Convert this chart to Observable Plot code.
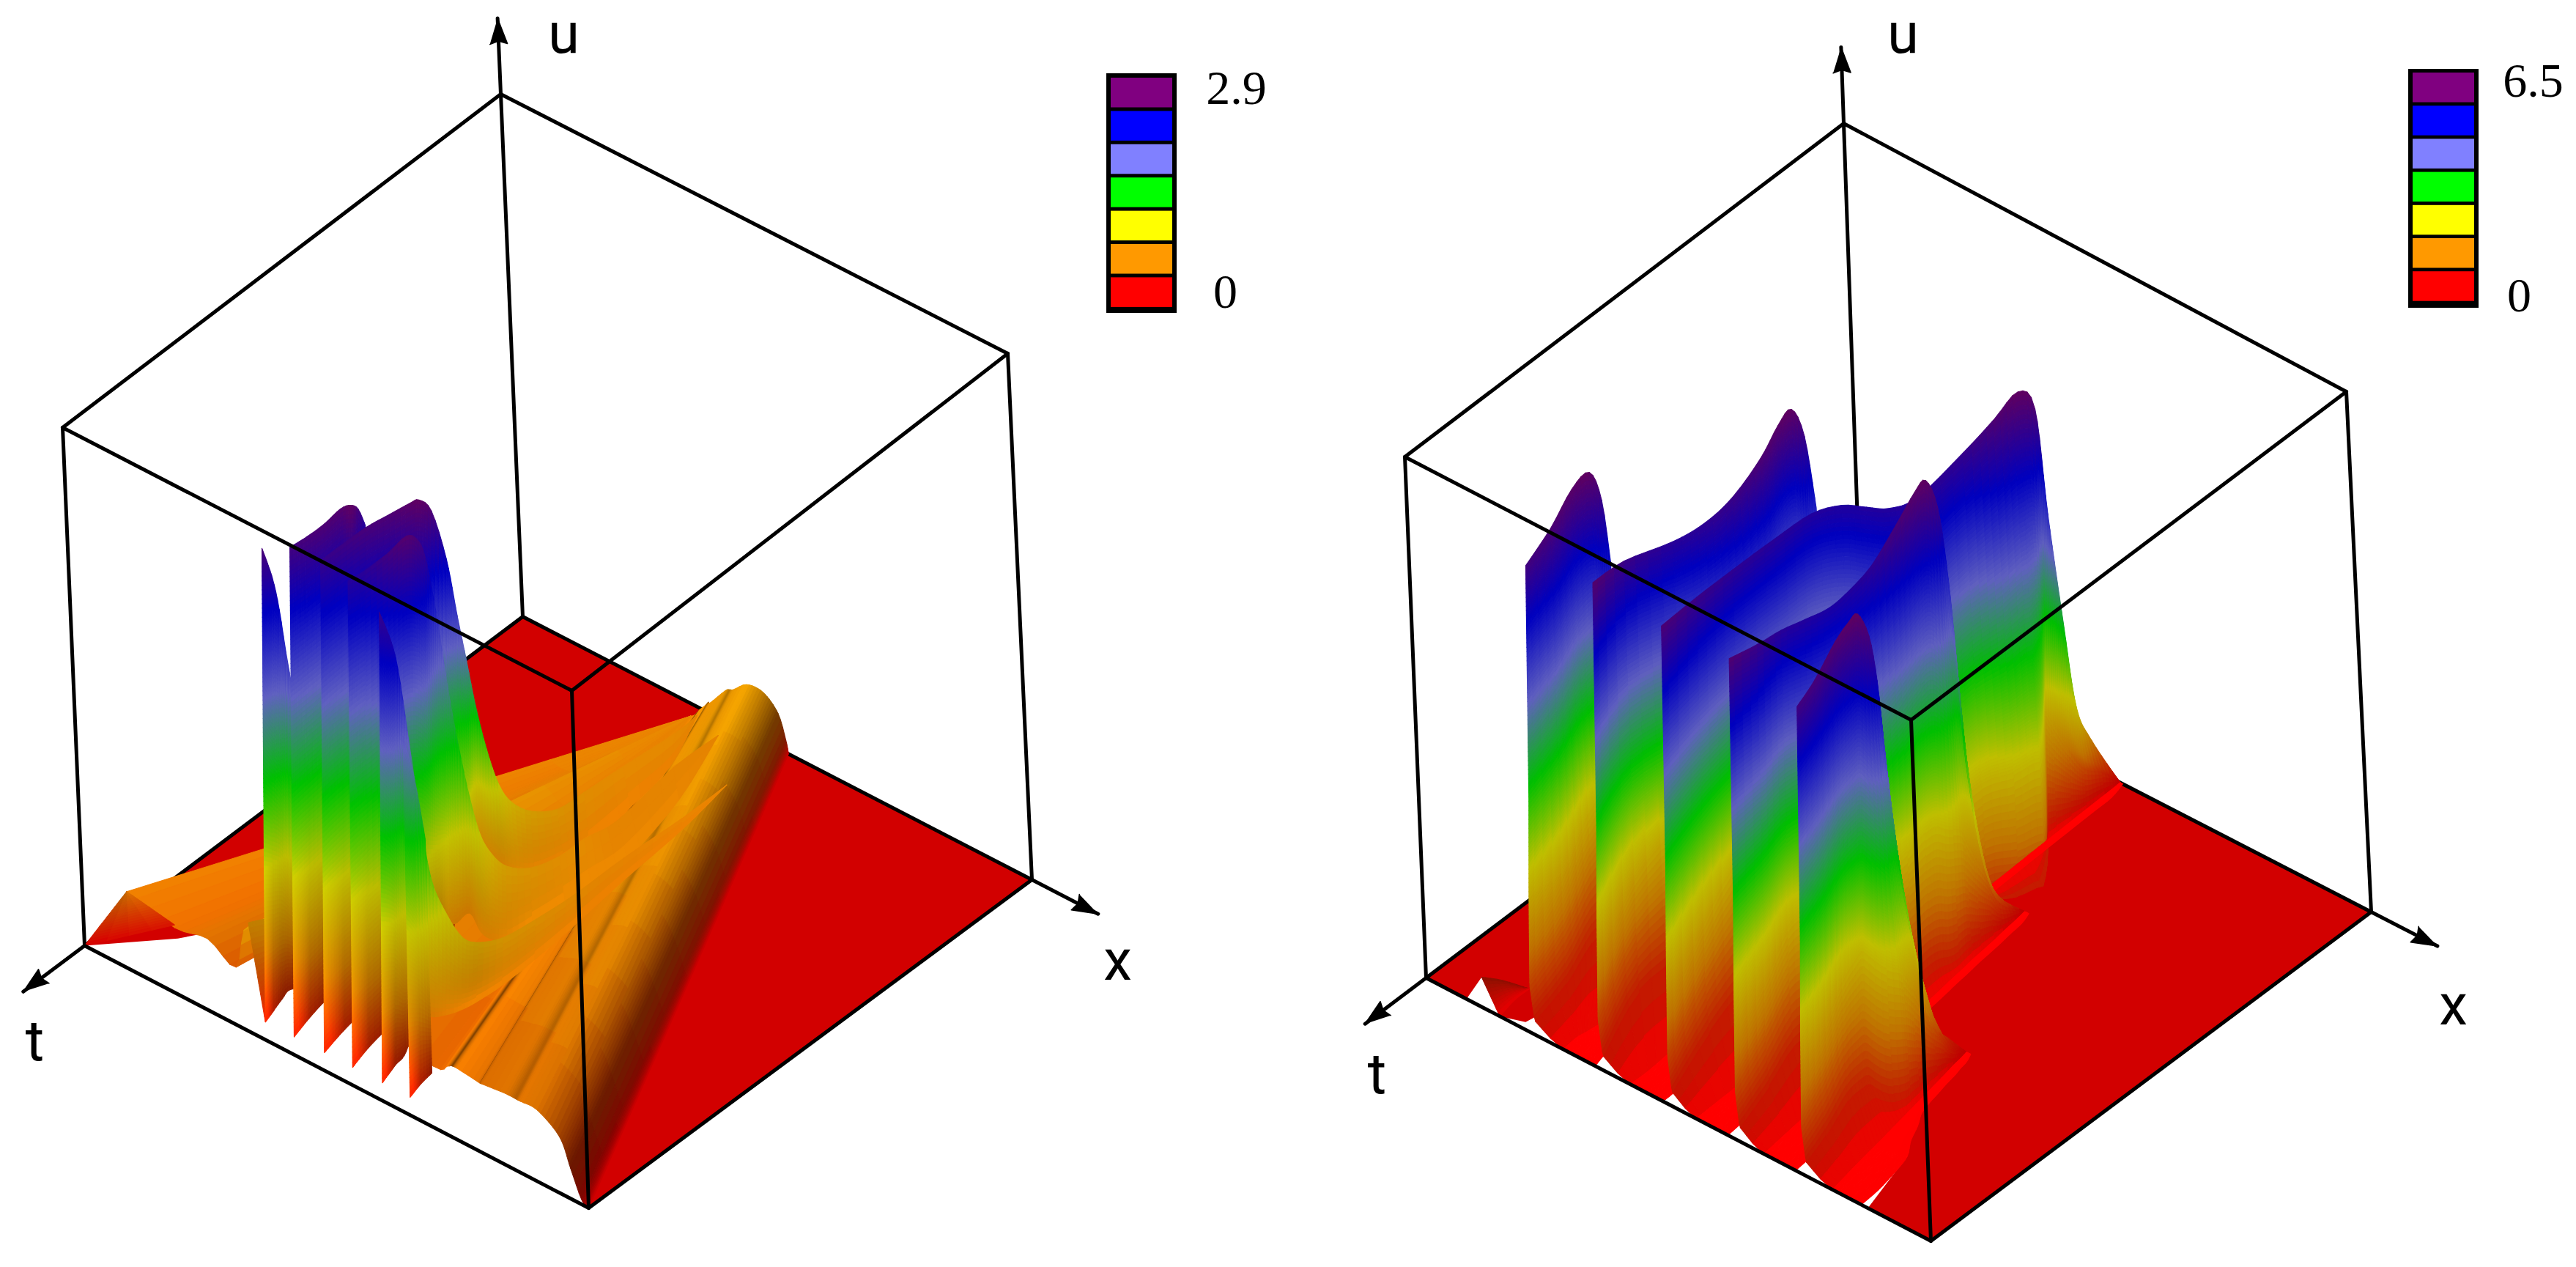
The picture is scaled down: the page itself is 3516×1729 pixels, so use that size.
<!DOCTYPE html>
<html><head><meta charset="utf-8">
<script src="https://cdn.jsdelivr.net/npm/d3@7"></script>
<script src="https://cdn.jsdelivr.net/npm/@observablehq/plot@0.6"></script>
<style>html,body{margin:0;padding:0;background:#fff;overflow:hidden}</style>
</head><body><div id="chart"></div>
<script>
// Values are read from the picture. Every vertex is [x, t, level, optional shade],
// x and t run 0..1 along the box floor, level is u as a share of the box height.
const legendColors = ["#ff0000","#ff9900","#ffff00","#00ff00","#8080ff","#0000ff","#800080"];
const leftTicks = ["2.9","0"];
const rightTicks = ["6.5","0"];
const axisLabels = ["u","x","t"];

// ---------- left panel: u up to 2.9 ----------
const lFloor = [[0,0],[1,0],[1,1],[.975,.97],[.91,.85],[.85,.75],[.2,.75],[.098,.9],[0,1]];
const lWedgeTop = [[.09,1,.15,.72],[.09,1,.15,.88]];
const lWedgeEnd = [[0,1,0,.85],[.098,.906,.03,.85]];
const lPlateauStart = [[.484,.17,.16,.92],[.484,.17,.16,.92],[.484,.17,.16,.92],[.484,.17,.16,.92],[.484,.17,.16,.92],[.484,.17,.16,.92],[.484,.17,.16,.92],[.484,.17,.16,.92],[.487,.165,.16,.98],[.49,.16,.165,.5],[.493,.157,.17,.98],[.497,.15,.175,.98],[.5,.147,.18,.6],[.503,.147,.18,.95],[.51,.12,.19,.92],[.514,.114,.19,.7],[.518,.11,.19,.92],[.534,.098,.2,.98],[.557,.088,.19,.75],[.573,.075,.15,.45],[.548,.033,.06,.5],[.522,0,0,.8]];
const lPlateauEnd = [[.09,1,.15,.95],[.184,1,.128,.95],[.25,1,.14,.88],[.305,1,.113,.85],[.337,1,.21,.9],[.45,1,.15,.9],[.58,1,.15,.9],[.697,1,.12,.9],[.725,1,.135,.98],[.735,1,.14,.5],[.745,1,.14,.98],[.785,1,.135,.9],[.79,1,.135,.62],[.795,1,.135,.86],[.84,1,.14,.88],[.86,1,.14,.7],[.87,1,.14,.9],[.903,1,.14,.85],[.946,1,.11,.62],[.966,1,.06,.42],[.986,1,.01,.5],[1,1,0,.8]];
const lStrip0bTop = [[.314,.979,.19],[.34,.959,.2]];
const lStrip0bFoot = [[.36,1,.035,1.1],[.36,.98,.045,.8]];
const lStrip0Crest = [[.39,1,.965],[.394,.984,.9],[.402,.98,.84],[.412,.974,.72],[.43,.955,.5]];
const lStrip0Foot = [[.36,1,.035,1.25],[.36,.98,.045,.7],[.36,.96,.055,.55],[.36,.94,.06,.55],[.39,.92,.06,.55]];
const lStrip1Crest = [[.409,.959,.95],[.421,.933,.96],[.43,.904,.97],[.434,.871,.98],[.457,.873,1],[.439,.837,.96],[.423,.805,.9]];
const lStrip1Foot = [[.417,1,.035,1.25],[.417,.962,.05,.65],[.417,.923,.06,.55],[.417,.885,.06,.55],[.417,.862,.06,.55],[.417,.845,.06,.55],[.417,.828,.06,.55]];
const lStrip2Crest = [[.449,.936,.93],[.458,.9,.94],[.476,.863,.96],[.492,.826,.97],[.515,.806,.99],[.529,.801,1],[.536,.782,.97],[.537,.754,.86],[.538,.736,.74],[.537,.718,.64],[.532,.697,.54],[.53,.674,.44],[.523,.643,.35],[.508,.6,.28,.8],[.504,.553,.23,.82],[.507,.497,.2,.85],[.495,.423,.18,.88],[.492,.332,.17,.9],[.501,.224,.17,.9],[.49,.162,.16,.9]];
const lStrip2Foot = [[.477,1,.035,1.25],[.477,.953,.05,.65],[.477,.897,.06,.55],[.477,.842,.06,.55],[.477,.797,.06,.55],[.477,.775,.06,.55],[.477,.747,.06,.55],[.477,.713,.06,.55],[.477,.687,.15,.8],[.477,.667,.15,.8],[.445,.611,.16,.85],[.469,.613,.16,.85],[.503,.62,.16,.85],[.532,.619,.16,.9],[.545,.594,.15,.98],[.556,.54,.15,.98],[.557,.484,.15,.98],[.547,.38,.15,.98],[.53,.27,.15,.95],[.49,.162,.16,.9]];
const lStrip3Crest = [[.488,.92,.9],[.5,.894,.91],[.533,.878,.95],[.553,.859,.98],[.555,.837,.96],[.56,.826,.92],[.542,.787,.78],[.544,.773,.65],[.547,.76,.54],[.557,.75,.43],[.567,.738,.34],[.565,.711,.28,.8],[.561,.674,.23,.82],[.567,.627,.2,.85],[.566,.561,.18,.88],[.559,.497,.17,.9],[.561,.425,.16,.9],[.544,.278,.16,.9],[.546,.179,.16,.9]];
const lStrip3Foot = [[.533,1,.035,1.25],[.533,.962,.05,.65],[.533,.912,.06,.55],[.533,.868,.06,.55],[.533,.845,.06,.55],[.533,.827,.06,.55],[.533,.802,.1,.6],[.533,.778,.16,.8],[.533,.757,.16,.8],[.533,.728,.16,.8],[.576,.752,.16,.85],[.601,.754,.16,.85],[.618,.74,.16,.9],[.622,.688,.16,.98],[.626,.619,.16,.98],[.629,.564,.16,.98],[.632,.484,.16,.98],[.6,.33,.16,.95],[.546,.179,.16,.9]];
const lStrip4Crest = [[.597,.974,.93],[.621,.968,.85],[.624,.948,.67],[.635,.944,.55],[.647,.937,.42],[.646,.905,.33],[.654,.879,.27],[.656,.845,.24],[.652,.786,.21,.82],[.645,.705,.19,.85],[.635,.602,.17,.88],[.627,.487,.16,.9],[.633,.361,.16,.92],[.633,.26,.16,.92]];
const lStrip4Foot = [[.592,1,.035,1.25],[.592,.97,.05,.6],[.592,.945,.06,.55],[.618,.941,.15,.8],[.642,.94,.15,.85],[.656,.923,.15,.9],[.666,.899,.15,.95],[.671,.872,.15,.98],[.675,.818,.15,.98],[.673,.742,.15,.98],[.665,.637,.15,.98],[.653,.519,.15,.98],[.642,.371,.15,.95],[.633,.26,.16,.92]];
const lStrip5Crest = [[.619,.956,.69],[.643,.96,.62],[.647,.946,.5]];
const lStrip5Foot = [[.647,1,.035,1.25],[.647,.975,.045,.7],[.647,.95,.05,.55]];

// ---------- right panel: u up to 6.5 ----------
const rFloor = [[0,0],[1,0],[1,1],[.875,1],[.84,.87],[.7,.9],[.2,.9],[.196,.926],[.185,.986],[.146,1],[.064,.947],[.08,1],[0,1]];
const r0Top = [[.089,.974,.03],[.119,.96,.03],[.151,.942,.02]];
const r0Foot = [[.146,1,0],[.138,.956,0],[.138,.922,0]];
const r1Crest = [[.235,1,.91],[.223,.928,.93],[.204,.857,.95],[.207,.82,.96],[.214,.803,.9],[.223,.798,.78]];
const r1Knee = [[.272,1,0],[.269,.968,0],[.272,.945,0],[.275,.922,0],[.28,.906,0],[.284,.89,0]];
const r1Apron = [[.335,1,0],[.328,.968,0],[.332,.951,0],[.334,.933,0],[.317,.913,0],[.3,.893,0]];
const r2Crest = [[.369,1,.945],[.335,.891,.9],[.337,.784,.87],[.354,.728,.88],[.363,.675,.9],[.361,.608,.93],[.347,.551,.95],[.346,.519,.96],[.353,.5,.9],[.353,.48,.75]];
const r2Knee = [[.404,1,0],[.405,.96,0],[.4,.864,0],[.413,.803,0],[.419,.748,0],[.417,.683,0],[.421,.646,0],[.409,.604,0],[.424,.593,0],[.431,.587,0]];
const r2Apron = [[.469,1,0],[.466,.96,0],[.44,.864,0],[.44,.803,0],[.44,.748,0],[.44,.683,0],[.44,.646,0],[.43,.604,0],[.445,.593,0],[.45,.587,0]];
const r3Crest = [[.504,1,.93],[.476,.888,.9],[.459,.787,.88],[.452,.683,.87],[.448,.595,.86],[.47,.552,.86],[.502,.532,.86],[.531,.512,.86],[.555,.475,.87],[.556,.372,.89],[.574,.321,.93],[.584,.275,.96],[.605,.262,.93],[.624,.264,.74],[.629,.245,.52],[.606,.199,.32],[.558,.116,.18],[.507,0,0]];
const r3Knee = [[.535,1,0],[.533,.93,0],[.531,.858,0],[.529,.773,0],[.526,.688,0],[.524,.617,0],[.523,.56,0],[.521,.504,0],[.52,.447,0],[.517,.348,0],[.515,.277,0],[.513,.22,0],[.512,.184,0],[.511,.149,0],[.51,.113,0],[.509,.078,0],[.508,.035,0],[.507,0,0]];
const r3Apron = [[.598,1,0],[.59,.93,0],[.57,.858,0],[.541,.773,0],[.538,.688,0],[.536,.617,0],[.535,.56,0],[.533,.504,0],[.532,.447,0],[.529,.348,0],[.527,.277,0],[.525,.22,0],[.524,.184,0],[.523,.149,0],[.522,.113,0],[.521,.078,0],[.52,.035,0],[.512,0,0]];
const r4Crest = [[.638,1,.935],[.62,.916,.9],[.601,.841,.87],[.604,.79,.86],[.606,.737,.85],[.61,.692,.86],[.614,.647,.88],[.614,.591,.92],[.61,.542,.95],[.613,.52,.96],[.621,.504,.9],[.627,.494,.76],[.649,.507,.62],[.672,.521,.45],[.669,.491,.25],[.638,.427,.12],[.596,.321,0]];
const r4Knee = [[.669,1,0],[.663,.94,0],[.657,.884,0],[.651,.829,0],[.645,.773,0],[.639,.718,0],[.633,.662,0],[.626,.599,0],[.62,.543,0],[.617,.519,0],[.613,.48,0],[.61,.456,0],[.608,.432,0],[.605,.4,0],[.602,.376,0],[.599,.345,0],[.596,.321,0]];
const r4Apron = [[.732,1,0],[.725,.94,0],[.7,.884,0],[.663,.829,0],[.657,.773,0],[.651,.718,0],[.645,.662,0],[.638,.599,0],[.632,.543,0],[.629,.519,0],[.625,.48,0],[.622,.456,0],[.62,.432,0],[.617,.4,0],[.614,.376,0],[.611,.345,0],[.604,.321,0]];
const r5Crest = [[.771,1,.91],[.759,.945,.92],[.74,.875,.94],[.738,.841,.955],[.74,.823,.96],[.754,.815,.92],[.766,.814,.84],[.777,.816,.72],[.783,.809,.57],[.791,.799,.42],[.793,.778,.28],[.774,.736,.14],[.746,.666,.05],[.747,.628,0]];
const r5Knee = [[.805,1,0],[.798,.958,0],[.79,.907,0],[.785,.87,0],[.78,.839,0],[.775,.806,0],[.771,.78,0],[.767,.755,0],[.763,.729,0],[.759,.704,0],[.755,.679,0],[.752,.662,0],[.75,.645,0],[.747,.628,0]];
const r5Apron = [[.862,1,0],[.859,.958,0],[.85,.907,0],[.84,.87,0],[.82,.839,0],[.805,.806,0],[.79,.78,0],[.783,.755,0],[.778,.729,0],[.773,.704,0],[.769,.679,0],[.765,.662,0],[.762,.645,0],[.755,.628,0]];

// How far the ground has moved along a wall when u has dropped to a share of its crest.
const wallShare = [0,.01,.03,.1,.3,.5,1];
const wallGround = [1,.3,-.5,-.7,-.54,-.34,0];
// Further back along a ridge, how far u has fallen at a given distance down the wall.
const backDown = [0,.52,.81,1];
const backFall = [0,.5,.69,1];

// ---------- view ----------
const W = 3516, H = 1729;
const leftBox = {B:[713,841],R:[1408,1200],L:[115,1290],F:[803,1648],BT:[683,128],RT:[1375,482],LT:[85,583],FT:[780,942]};
const rightBox = {B:[2541,886],R:[3236,1244],L:[1946,1334],F:[2635,1693],BT:[2516,168],RT:[3202,534],LT:[1917,623],FT:[2608,982]};
const lerp = (a,b,f) => a+(b-a)*f;
function project(box,x,t,l){
  const out=[];
  for(let k=0;k<2;k++){
    const bot=lerp(lerp(box.B[k],box.R[k],x),lerp(box.L[k],box.F[k],x),t);
    const top=lerp(lerp(box.BT[k],box.RT[k],x),lerp(box.LT[k],box.FT[k],x),t);
    out.push(lerp(bot,top,l));
  }
  return out;
}
const wallProfile = d3.scaleLinear().domain(wallShare).range(wallGround);
const backProfile = d3.scaleLinear().domain(backDown).range(backFall);
const scaleFor = (uMax) => Plot.scale({color:{type:"linear",interpolate:"rgb",domain:legendColors.map((_,i)=>uMax*i/6),range:legendColors}});
const leftColor = scaleFor(2.9), rightColor = scaleFor(6.5);
function tint(c,k){const q=d3.rgb(c);return `rgb(${Math.min(255,q.r*k)|0},${Math.min(255,q.g*k)|0},${Math.min(255,q.b*k)|0})`;}

let gid=0;
const quads=[];
function addPoly(pts,fill){const id=gid++;for(const p of pts.concat([pts[0]]))quads.push({id,px:p[0],py:p[1],fill});}
// A smooth curve through one row's vertices, so crests render round instead of angular.
function along(row,c,f,k){
  const p0=row[Math.max(0,c-1)][k],p1=row[c][k],p2=row[c+1][k],p3=row[Math.min(row.length-1,c+2)][k];
  const f2=f*f,f3=f2*f;
  return .5*((2*p1)+(-p0+p2)*f+(2*p0-5*p1+4*p2-p3)*f2+(-p0+3*p1-3*p2+p3)*f3);
}
function ribbon(box,color,uTop,rows,opt){
  const rs=opt.rowShade, pow=opt.pow||4, smooth=opt.smooth!==false;
  const crest=rows[0], peak=d3.maxIndex(crest,p=>p[2]), t0=crest[0][1];
  for(let r=0;r<rows.length-1;r++){
    const top=rows[r],bot=rows[r+1];
    const useWall=opt.wall&&r===0;
    for(let c=0;c<top.length-1;c++){
      const S=(p,rr)=>p[3]??rs[rr];
      const a=top[c],b=top[c+1],d=bot[c],e=bot[c+1];
      const sa=S(a,r),sb=S(b,r),sd=S(d,r+1),se=S(e,r+1);
      const nv=Math.max(1,Math.ceil(Math.max(Math.abs(a[2]-d[2]),Math.abs(b[2]-e[2]),Math.abs(sa-sd)/4)*110));
      const nc=Math.max(smooth?4:1,Math.ceil(Math.max(Math.abs(a[2]-b[2]),Math.abs(d[2]-e[2]))*30),Math.ceil(Math.max(Math.abs(sa-sb),Math.abs(sd-se))*24));
      const val=(row,f,k)=>smooth?along(row,c,f,k):lerp(row[c][k],row[c+1][k],f);
      // the wall's near-vertical fall holds up to the peak and relaxes on the far side
      const wallAmount=f=>useWall?Math.max(0,1-Math.max(0,c+f-peak)/1.5):0;
      const sag=(f,w)=>{
        if(!useWall)return w;
        const back=Math.max(0,t0-val(top,f,1));
        return lerp(w,backProfile(w),Math.min(1,back/.18));
      };
      const pt=(i,j)=>{
        const f=i/nc,w=j/nv;
        const g=lerp(w,wallProfile(1-w),wallAmount(f));
        return project(box,lerp(val(top,f,0),val(bot,f,0),g),lerp(val(top,f,1),val(bot,f,1),g),Math.max(0,lerp(val(top,f,2),val(bot,f,2),sag(f,w))));
      };
      for(let i=0;i<nc;i++)for(let j=0;j<nv;j++){
        const f=(i+.5)/nc,w=(j+.5)/nv;
        const lev=Math.max(0,lerp(val(top,f,2),val(bot,f,2),sag(f,w)));
        const sh=lerp(lerp(sa,sb,f),lerp(sd,se,f),Math.pow(w,pow));
        addPoly([pt(i,j),pt(i+1,j),pt(i+1,j+1),pt(i,j+1)],tint(color.apply(Math.min(lev*uTop,color.domain[color.domain.length-1])),sh));
      }
    }
  }
}
// box, floor, arrows
function addEdges(box,list,set){for(const [p,q] of list){const id=gid++;set.push({id,pos:project(box,...p)},{id,pos:project(box,...q)});}}
const backEdges=[[[0,0,0],[1,0,0]],[[0,0,0],[0,1,0]],[[0,0,0],[0,0,1]],[[0,0,1],[1,0,1]],[[0,0,1],[0,1,1]],[[0,1,0],[0,1,1]],[[1,0,0],[1,0,1]]];
const frontEdges=[[[0,1,0],[1,1,0]],[[1,0,0],[1,1,0]],[[1,1,0],[1,1,1]],[[0,1,1],[1,1,1]],[[1,0,1],[1,1,1]]];
const arrowTips=[[[0,0,1],[0,0,1.145]],[[0,1,0],[0,1.14,0]],[[1,0,0],[1.13,0,0]]];

function panel(box,color,uTop,floor,surfaces){
  const floorPts=floor.map(p=>({id:gid,pos:project(box,p[0],p[1],0)})); gid++;
  const back=[];addEdges(box,backEdges.concat(arrowTips),back);
  quads.length=0;
  for(const [rows,opt] of surfaces)ribbon(box,color,uTop,rows,opt);
  const q=quads.slice();
  const front=[];addEdges(box,frontEdges,front);
  const heads=[];
  for(const [p,tip] of arrowTips){
    const a=project(box,...p),b=project(box,...tip);
    const dx=b[0]-a[0],dy=b[1]-a[1],len=Math.hypot(dx,dy),ux=dx/len,uy=dy/len;
    const id=gid++;
    const at=(along,side)=>[b[0]-ux*along-uy*side,b[1]-uy*along+ux*side];
    for(const v of [at(0,0),at(35,12),at(31,0),at(35,-12)])heads.push({id,pos:v});
  }
  const LINE={stroke:"#000",strokeWidth:5,strokeLinecap:"round",z:"id",x:d=>d.pos[0],y:d=>d.pos[1]};
  return [
    Plot.line(floorPts,{x:d=>d.pos[0],y:d=>d.pos[1],fill:()=>"#d20000",stroke:"none"}),
    Plot.line(back,LINE),
    Plot.line(q,{x:"px",y:"py",z:"id",fill:"fill",stroke:"fill",strokeWidth:1.1}),
    Plot.line(front,LINE),
    Plot.line(heads,{x:d=>d.pos[0],y:d=>d.pos[1],z:"id",fill:()=>"#000",stroke:"#000",strokeWidth:1.5})
  ];
}
const leftShade={rowShade:[.76,.7],pow:5};
const leftMarks=panel(leftBox,leftColor,2.9,lFloor,[
  [[lPlateauStart,lPlateauEnd],{rowShade:[.88,.85],pow:1}],
  [[lWedgeTop,lWedgeEnd],{rowShade:[.85,.85],pow:1,smooth:false}],
  [[lStrip0bTop,lStrip0bFoot],leftShade],
  [[lStrip0Crest,lStrip0Foot],leftShade],
  [[lStrip1Crest,lStrip1Foot],leftShade],
  [[lStrip2Crest,lStrip2Foot],leftShade],
  [[lStrip3Crest,lStrip3Foot],leftShade],
  [[lStrip4Crest,lStrip4Foot],leftShade],
  [[lStrip5Crest,lStrip5Foot],leftShade]
]);
const rightWall={rowShade:[.75,1,.66],pow:90,wall:true};
const rightMarks=panel(rightBox,rightColor,6.77,rFloor,[
  [[r0Top,r0Foot],{rowShade:[.55,.9],pow:1}],
  [[r1Crest,r1Knee,r1Apron],rightWall],
  [[r2Crest,r2Knee,r2Apron],rightWall],
  [[r3Crest,r3Knee,r3Apron],rightWall],
  [[r4Crest,r4Knee,r4Apron],rightWall],
  [[r5Crest,r5Knee,r5Apron],rightWall]
]);
// legends
function legend(x1,x2,oy1,oy2,cellTop,step,cellH,ticks,tx,ty0,zx,zy){
  const cells=legendColors.slice().reverse().map((c,i)=>({c,y1:cellTop+step*i,y2:cellTop+step*i+cellH}));
  return [
    Plot.rect([0],{x1:()=>x1,x2:()=>x2,y1:()=>oy1,y2:()=>oy2,fill:()=>"#000"}),
    Plot.rect(cells,{x1:()=>x1+6,x2:()=>x2-6,y1:"y1",y2:"y2",fill:"c"}),
    Plot.text([ticks[0]],{x:()=>tx,y:()=>ty0,text:d=>d,fontFamily:"Liberation Serif",fontSize:66,fill:"#000"}),
    Plot.text([ticks[1]],{x:()=>zx,y:()=>zy,text:d=>d,fontFamily:"Liberation Serif",fontSize:66,fill:"#000"})
  ];
}
const sans={fontFamily:"Roboto",fontSize:78,fill:"#000"};
const labels=(uxy,xxy,txy)=>[uxy,xxy,txy].map((p,i)=>Plot.text([axisLabels[i]],{x:()=>p[0],y:()=>p[1],text:d=>d,...sans}));
const plot=Plot.plot({
  width:W,height:H,margin:0,
  x:{domain:[0,W],range:[0,W],axis:null},
  y:{domain:[0,H],range:[0,H],axis:null},
  color:{type:"identity"},
  marks:[
    ...leftMarks,...rightMarks,
    ...legend(1510,1606,100,427,106,45.4,40.5,leftTicks,1687,120,1672,398),
    ...legend(3287,3383,94,420,99,45.2,40.5,rightTicks,3457,110,3438,403),
    ...labels([769,47],[1525,1312],[47,1422]),
    ...labels([2597,47],[3348,1373],[1879,1467])
  ]
});
document.getElementById("chart").append(plot);
</script></body></html>
